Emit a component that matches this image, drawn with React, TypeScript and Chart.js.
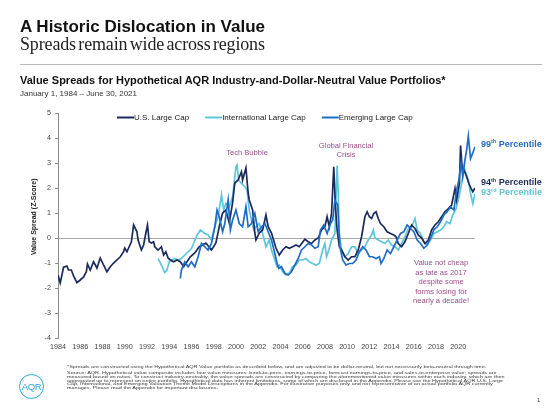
import React, { useEffect, useRef } from "react";
import { Chart, registerables } from "chart.js";

Chart.register(...registerables);

// ---------- data ----------
const SERIES_NAMES = ["U.S. Large Cap", "International Large Cap", "Emerging Large Cap"];

const US_YEARS = [
  1984.0, 1984.2, 1984.5, 1984.8, 1984.95, 1985.2, 1985.4, 1985.7, 1986.0, 1986.3, 1986.55, 1986.65,
  1986.9, 1987.2, 1987.5, 1987.8, 1988.1, 1988.4, 1988.7, 1989.0, 1989.3, 1989.6, 1989.9, 1990.0,
  1990.2, 1990.4, 1990.6, 1990.8, 1991.1, 1991.2, 1991.5, 1991.7, 1991.9, 1992.05, 1992.2, 1992.4,
  1992.6, 1992.7, 1993.0, 1993.3, 1993.5, 1993.7, 1993.9, 1994.1, 1994.4, 1994.7, 1995.0, 1995.3,
  1995.6, 1995.9, 1996.3, 1996.7, 1997.3, 1997.8, 1998.2, 1998.5, 1998.8, 1999.1, 1999.4, 1999.7,
  1999.9, 2000.2, 2000.5, 2000.6, 2000.9, 2001.1, 2001.2, 2001.5, 2001.7, 2001.8, 2002.1, 2002.4,
  2002.7, 2002.9, 2003.2, 2003.3, 2003.6, 2003.9, 2004.2, 2004.5, 2004.8, 2005.1, 2005.4, 2005.7,
  2006.2, 2006.5, 2006.8, 2007.1, 2007.4, 2007.7, 2008.0, 2008.2, 2008.4, 2008.6, 2008.8, 2008.95,
  2009.1, 2009.3, 2009.5, 2009.8, 2010.1, 2010.4, 2010.7, 2011.0, 2011.3, 2011.6, 2011.8, 2012.0,
  2012.2, 2012.4, 2012.6, 2012.8, 2013.0, 2013.3, 2013.6, 2013.9, 2014.2, 2014.4, 2014.6, 2014.9,
  2015.2, 2015.5, 2015.8, 2016.1, 2016.4, 2016.7, 2017.0, 2017.3, 2017.6, 2017.9, 2018.2, 2018.5,
  2018.8, 2019.1, 2019.4, 2019.7, 2019.85, 2020.1, 2020.2, 2020.35, 2020.5, 2020.75, 2020.95, 2021.15,
  2021.3, 2021.5,
];
const US_VALUES = [
  -1.48, -1.8, -1.17, -1.12, -1.28, -1.28, -1.52, -1.79, -1.68, -1.56, -1.35, -1.04,
  -1.28, -0.95, -1.2, -0.8, -1.08, -1.35, -1.15, -1.0, -0.88, -0.75, -0.55, -0.4,
  -0.55, -0.35, -0.15, 0.52, 0.25, -0.08, -0.48, -0.28, 0.2, 0.52, -0.15, -0.2,
  -0.15, -0.35, -0.48, -0.35, -0.68, -0.55, -0.8, -0.88, -0.95, -0.88, -0.95, -1.15,
  -0.95, -0.75, -0.6, -0.35, -0.2, -0.48, -0.2, 0.45, 1.0, 1.12, 0.6, 1.4,
  2.2, 2.32, 2.65, 2.32, 2.8, 1.8, 1.52, 1.12, 0.2, -0.08, 0.2, 0.32,
  0.92, 0.45, 0.2, 0.05, -0.4, -0.68, -0.48, -0.35, -0.41, -0.35, -0.28, -0.35,
  -0.05, -0.15, -0.22, -0.08, 0.0, 0.32, 0.45, 0.85, 0.45, 0.98, 2.85, 1.25,
  0.32, -0.35, -0.48, -0.75, -0.88, -0.75, -0.75, -0.48, 0.05, 0.85, 1.05, 0.85,
  0.78, 0.98, 1.05, 0.78, 0.58, 0.45, 0.25, 0.18, 0.12, 0.05, -0.22, -0.35,
  -0.15, 0.18, 0.52, 0.38, 0.12, 0.0, -0.22, -0.08, 0.32, 0.52, 0.65, 0.85,
  1.05, 1.18, 1.32, 1.98, 1.52, 2.18, 3.7, 2.8, 2.72, 2.45, 2.18, 1.98,
  1.85, 2.0,
];

const INTL_YEARS = [
  1993.0, 1993.3, 1993.6, 1993.8, 1994.0, 1994.2, 1994.5, 1994.8, 1995.1, 1995.4, 1995.7, 1996.0,
  1996.2, 1996.5, 1996.8, 1997.2, 1997.5, 1997.8, 1998.1, 1998.4, 1998.7, 1998.9, 1999.1, 1999.4,
  1999.7, 2000.0, 2000.1, 2000.25, 2000.5, 2000.8, 2001.0, 2001.2, 2001.4, 2001.6, 2001.8, 2002.1,
  2002.4, 2002.7, 2003.0, 2003.2, 2003.5, 2003.7, 2003.9, 2004.2, 2004.5, 2004.8, 2005.1, 2005.4,
  2005.7, 2006.0, 2006.3, 2006.6, 2006.9, 2007.2, 2007.5, 2007.8, 2008.0, 2008.15, 2008.35, 2008.6,
  2008.9, 2009.1, 2009.2, 2009.3, 2009.5, 2009.8, 2010.1, 2010.4, 2010.7, 2011.0, 2011.3, 2011.6,
  2011.9, 2012.2, 2012.35, 2012.5, 2012.8, 2013.1, 2013.4, 2013.7, 2014.0, 2014.3, 2014.6, 2014.9,
  2015.2, 2015.5, 2015.8, 2016.1, 2016.3, 2016.6, 2016.9, 2017.2, 2017.5, 2017.8, 2018.1, 2018.4,
  2018.7, 2018.95, 2019.25, 2019.5, 2019.8, 2020.0, 2020.3, 2020.5, 2020.7, 2020.9, 2021.1, 2021.3,
  2021.5,
];
const INTL_VALUES = [
  -0.82, -1.08, -1.38, -1.28, -0.95, -0.88, -0.82, -0.88, -0.82, -0.68, -0.55, -0.42,
  -0.22, 0.1, 0.32, 0.18, 0.12, -0.08, 0.45, 0.85, 1.72, 1.12, 1.38, 1.25,
  1.65, 2.85, 2.92, 2.32, 2.18, 2.05, 1.92, 1.12, 0.72, 0.32, 0.45, 0.58,
  0.18, -0.35, -0.08, -0.48, -0.88, -1.15, -1.08, -1.35, -1.48, -1.41, -1.15, -1.08,
  -0.88, -0.88, -0.82, -0.95, -1.02, -1.08, -1.02, -0.48, -0.22, -0.75, -0.48, -0.08,
  0.18, 2.9, 1.8, 0.18, -0.48, -0.75, -0.62, -0.35, -0.35, -0.62, -0.48, -0.35,
  -0.08, 0.12, 0.32, 0.0, -0.08, -0.15, -0.22, -0.08, -0.28, -0.35, -0.48, -0.22,
  0.05, 0.38, 0.45, 0.78, 0.32, 0.18, -0.15, -0.28, -0.08, 0.18, 0.25, 0.32,
  0.45, 0.65, 0.58, 0.92, 1.18, 1.52, 2.18, 2.85, 2.58, 2.32, 1.78, 1.38,
  1.78,
];

const EM_YEARS = [
  1995.0, 1995.1, 1995.4, 1995.7, 1996.0, 1996.3, 1996.6, 1996.9, 1997.2, 1997.5, 1997.8, 1998.1,
  1998.3, 1998.5, 1998.8, 1999.0, 1999.3, 1999.5, 1999.7, 2000.0, 2000.3, 2000.6, 2000.9, 2001.1,
  2001.4, 2001.7, 2002.0, 2002.3, 2002.6, 2002.9, 2003.2, 2003.5, 2003.7, 2003.85, 2004.1, 2004.4,
  2004.7, 2005.0, 2005.3, 2005.6, 2005.9, 2006.2, 2006.5, 2006.8, 2007.1, 2007.4, 2007.6, 2007.9,
  2008.2, 2008.5, 2008.7, 2008.9, 2009.15, 2009.35, 2009.6, 2009.9, 2010.2, 2010.5, 2010.8, 2011.1,
  2011.4, 2011.7, 2012.0, 2012.3, 2012.6, 2012.9, 2013.05, 2013.3, 2013.6, 2013.9, 2014.2, 2014.5,
  2014.8, 2015.1, 2015.4, 2015.7, 2016.0, 2016.3, 2016.6, 2016.9, 2017.2, 2017.5, 2017.8, 2018.1,
  2018.4, 2018.7, 2019.0, 2019.3, 2019.6, 2019.85, 2020.05, 2020.25, 2020.4, 2020.6, 2020.75, 2020.9,
  2021.1, 2021.3, 2021.5,
];
const EM_VALUES = [
  -1.62, -1.28, -0.95, -1.15, -0.95, -1.15, -0.75, -0.22, -0.35, -0.48, -0.22, 0.45,
  1.12, 0.85, 0.25, 0.58, 1.52, 0.32, 0.72, 1.12, 0.58, 0.45, 1.25, 0.45,
  0.58, 0.98, 0.25, 0.45, 0.58, 0.25, -0.08, -0.62, -1.0, -1.22, -1.15, -1.41,
  -1.48, -1.35, -1.08, -0.82, -0.48, -0.35, -0.22, -0.28, -0.41, -0.35, 0.32, 0.52,
  0.18, 0.58, 0.72, 1.52, 1.32, -0.35, -0.88, -1.08, -1.02, -1.02, -0.88, -0.55,
  -0.35, -0.48, -0.75, -0.75, -0.82, -0.75, -1.02, -0.82, -0.48, -0.62, -0.35, -0.08,
  0.18, 0.25, 0.52, 0.38, 0.25, -0.08, -0.22, -0.41, -0.28, 0.0, 0.32, 0.45,
  0.65, 0.92, 1.05, 1.25, 1.12, 1.92, 2.32, 3.0, 2.45, 3.12, 3.52, 4.08,
  3.18, 3.4, 3.65,
];

const X_TICKS = [1984, 1986, 1988, 1990, 1992, 1994, 1996, 1998, 2000, 2002, 2004, 2006, 2008, 2010, 2012, 2014, 2016, 2018, 2020];
const X_MIN = 1984;
const X_MAX = 2021.5;
const Y_MIN = -4;
const Y_MAX = 5;

const PERCENTILES = [
  { num: "99", sup: "th", value: 3.75, series: 2 },
  { num: "94", sup: "th", value: 2.2, series: 0 },
  { num: "93", sup: "rd", value: 1.8, series: 1 },
];

const NOTES = [
  { lines: ["Tech Bubble"], x: 2001.0, y: 3.41 },
  { lines: ["Global Financial", "Crisis"], x: 2009.9, y: 3.69 },
  {
    lines: ["Value not cheap", "as late as 2017", "despite some", "forms losing for", "nearly a decade!"],
    x: 2018.45,
    y: -1.01,
  },
];

const Y_TITLE = "Value Spread (Z-Score)";

const FOOTNOTE_FIRST =
  "*Spreads are constructed using the Hypothetical AQR Value portfolio as described below, and are adjusted to be dollar-neutral, but not necessarily beta-neutral through time.";
const FOOTNOTE_LINES = [
  "Source: AQR. Hypothetical value composite includes four value measures: book-to-price, earnings-to-price, forecast earnings-to-price, and sales-to-enterprise value; spreads are",
  "measured based on ratios. To construct industry-neutrality, the value spreads are constructed by comparing the aforementioned value measures within each industry, which are then",
  "aggregated up to represent an entire portfolio. Hypothetical data has inherent limitations, some of which are disclosed in the Appendix. Please see the Hypothetical AQR U.S. Large",
  "Cap, International, and Emerging Valuation Theme Model Descriptions in the Appendix. For illustrative purposes only and not representative of an actual portfolio AQR currently",
  "manages. Please read the Appendix for important disclosures.",
];

// ---------- styles ----------
const SANS = '"Liberation Sans", Arial, Helvetica, sans-serif';
const SERIF = '"Liberation Serif", "Times New Roman", serif';
const COLORS = ["#1b2a5c", "#5ec5db", "#1f6cc3"];
const NOTE_COLOR = "#9b4d8c";

const overlayPlugin = {
  id: "overlay",
  afterDraw(chart: any) {
    const { ctx, chartArea, scales } = chart;
    const xs = scales.x;
    const ys = scales.y;
    ctx.save();

    // legend
    ctx.font = `8px ${SANS}`;
    ctx.textBaseline = "middle";
    ctx.textAlign = "left";
    let lx = 117;
    const ly = chartArea.top + 4.5;
    chart.data.datasets.forEach((ds: any) => {
      ctx.strokeStyle = ds.borderColor;
      ctx.lineWidth = 2;
      ctx.beginPath();
      ctx.moveTo(lx, ly);
      ctx.lineTo(lx + 17, ly);
      ctx.stroke();
      ctx.fillStyle = "#222";
      ctx.fillText(ds.label, lx + 17, ly);
      lx += 17 + ctx.measureText(ds.label).width + 16;
    });

    // annotations
    ctx.fillStyle = NOTE_COLOR;
    ctx.font = `7.6px ${SANS}`;
    ctx.textAlign = "center";
    NOTES.forEach((n) => {
      const px = xs.getPixelForValue(n.x);
      const py = ys.getPixelForValue(n.y);
      n.lines.forEach((ln, i) => ctx.fillText(ln, px, py + i * 9.5));
    });

    // y-axis title
    ctx.save();
    ctx.translate(34, ys.getPixelForValue(0.85));
    ctx.rotate(-Math.PI / 2);
    ctx.font = `bold 7px ${SANS}`;
    ctx.fillStyle = "#222";
    ctx.textAlign = "center";
    ctx.textBaseline = "middle";
    ctx.fillText(Y_TITLE, 0, 0);
    ctx.restore();

    // percentile labels
    ctx.textAlign = "left";
    ctx.textBaseline = "middle";
    PERCENTILES.forEach((p) => {
      let px = chartArea.right + 6;
      const py = ys.getPixelForValue(p.value);
      ctx.fillStyle = COLORS[p.series];
      ctx.font = `bold 9px ${SANS}`;
      ctx.fillText(p.num, px, py);
      px += ctx.measureText(p.num).width;
      ctx.font = `bold 5.5px ${SANS}`;
      ctx.fillText(p.sup, px, py - 2.5);
      px += ctx.measureText(p.sup).width;
      ctx.font = `bold 9px ${SANS}`;
      ctx.fillText(" Percentile", px, py);
    });
    ctx.restore();
  },
};

function toPoints(xs: number[], ys: number[]) {
  return xs.map((x, i) => ({ x, y: ys[i] }));
}

function SpreadChart() {
  const ref = useRef<HTMLCanvasElement | null>(null);
  useEffect(() => {
    if (!ref.current) return;
    const chart = new Chart(ref.current, {
      type: "line",
      data: {
        datasets: [
          { label: SERIES_NAMES[0], data: toPoints(US_YEARS, US_VALUES), borderColor: COLORS[0], borderWidth: 1.7, pointRadius: 0, order: 1 },
          { label: SERIES_NAMES[1], data: toPoints(INTL_YEARS, INTL_VALUES), borderColor: COLORS[1], borderWidth: 1.7, pointRadius: 0, order: 2 },
          { label: SERIES_NAMES[2], data: toPoints(EM_YEARS, EM_VALUES), borderColor: COLORS[2], borderWidth: 1.7, pointRadius: 0, order: 0 },
        ],
      } as any,
      options: {
        responsive: false,
        animation: false,
        layout: { padding: { top: 113, right: 85, bottom: 0, left: 0 } },
        plugins: { legend: { display: false }, tooltip: { enabled: false } },
        elements: { line: { tension: 0 } },
        scales: {
          x: {
            type: "linear",
            min: X_MIN,
            max: X_MAX,
            afterBuildTicks: (s: any) => {
              s.ticks = X_TICKS.map((v) => ({ value: v }));
            },
            afterFit: (s: any) => {
              s.height = 82;
            },
            grid: { display: false, drawTicks: false },
            border: { display: false },
            ticks: {
              autoSkip: false,
              maxRotation: 0,
              padding: 5,
              color: "#444",
              font: { family: SANS, size: 7.2 },
              callback: (v: any) => String(v),
            },
          },
          y: {
            type: "linear",
            min: Y_MIN,
            max: Y_MAX,
            afterFit: (s: any) => {
              s.width = 58;
            },
            grid: {
              color: (c: any) => (c.tick && c.tick.value === 0 ? "#a9a9a9" : "rgba(0,0,0,0)"),
              tickColor: "#8a8a8a",
              tickLength: 3,
              lineWidth: 1,
            },
            border: { color: "#8a8a8a", width: 1 },
            ticks: {
              stepSize: 1,
              padding: 4,
              color: "#444",
              font: { family: SANS, size: 7.2 },
            },
          },
        },
      } as any,
      plugins: [overlayPlugin],
    });
    return () => chart.destroy();
  }, []);
  return <canvas ref={ref} width={560} height={420} style={{ position: "absolute", left: 0, top: 0, width: 560, height: 420 }} />;
}

export default function App() {
  const abs = (o: React.CSSProperties): React.CSSProperties => ({ position: "absolute", whiteSpace: "nowrap", margin: 0, ...o });
  const foot = (top: number): React.CSSProperties =>
    abs({ left: 67, top, font: `10.4px/8px ${SANS}`, color: "#3a3a3a", transform: "scale(0.528, 0.42)", transformOrigin: "0 0" });
  return (
    <div style={{ position: "absolute", left: 0, top: 0, width: 560, height: 420, background: "#fff", overflow: "hidden" }}>
      <SpreadChart />
      <div style={abs({ left: 20, top: 17.6, font: `bold 17px/17px ${SANS}`, color: "#111" })}>A Historic Dislocation in Value</div>
      <div style={abs({ left: 20, top: 35, font: `18px/18px ${SERIF}`, color: "#222", letterSpacing: "-0.15px", wordSpacing: "-2px" })}>
        Spreads remain wide across regions
      </div>
      <div style={abs({ left: 20, top: 64, width: 522, height: 1, background: "#b8b8b8" })} />
      <div style={abs({ left: 20, top: 74.7, font: `bold 11px/11px ${SANS}`, color: "#111" })}>
        Value Spreads for Hypothetical AQR Industry-and-Dollar-Neutral Value Portfolios*
      </div>
      <div style={abs({ left: 20, top: 90.2, font: `8px/8px ${SANS}`, color: "#333" })}>January 1, 1984 – June 30, 2021</div>

      <div style={foot(365.3)}>{FOOTNOTE_FIRST}</div>
      {FOOTNOTE_LINES.map((t, i) => (
        <div key={i} style={foot(371.3 + i * 3.68)}>
          {t}
        </div>
      ))}

      <div
        style={abs({
          left: 19,
          top: 374,
          width: 23,
          height: 23,
          borderRadius: "50%",
          border: "1.5px solid #2aa8dc",
          color: "#2aa8dc",
          font: `9.5px/23px ${SANS}`,
          textAlign: "center",
          letterSpacing: "-0.3px",
        })}
      >
        AQR
      </div>
      <div style={abs({ left: 537, top: 397, font: `6px/6px ${SANS}`, color: "#444" })}>1</div>
    </div>
  );
}
